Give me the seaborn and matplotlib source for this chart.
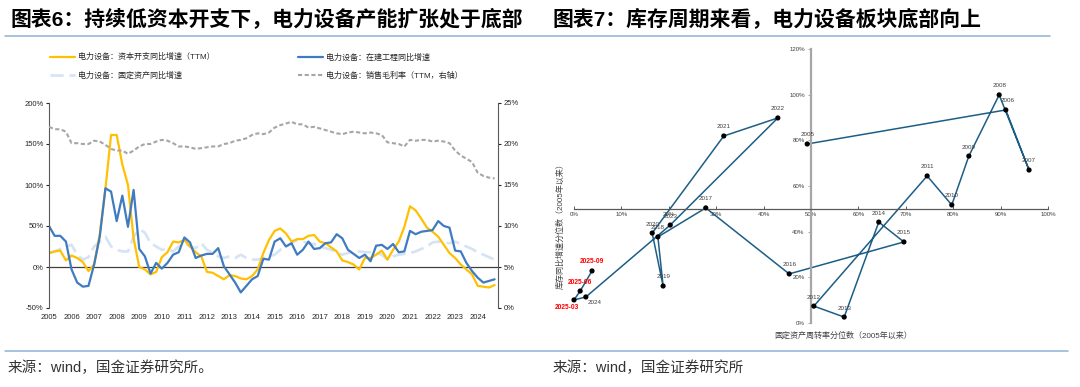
import numpy as np
import pandas as pd
import seaborn as sns
import matplotlib.pyplot as plt
from matplotlib.lines import Line2D

sns.set_theme(style='white')
plt.rcParams['font.family'] = ['Liberation Sans', 'Noto Sans CJK SC', 'DejaVu Sans']
plt.rcParams['axes.unicode_minus'] = False

# ---- chart 6 data (quarterly, 2005Q1 - 2024Q4) ----
years = list(range(2005, 2025))
capex = [17, 19, 20, 8, 14, 11, 6, -5, 3, 40, 95, 161, 161, 125, 100, 35,
         0, -3, -9, -6, 12, 18, 31, 30, 33, 25, 18, 13, -6, -7, -11, -15,
         -10, -11, -14, -15, -11, -3, 17, 33, 44, 47, 41, 31, 34, 34, 38, 39,
         31, 29, 24, 19, 8, 6, 3, -3, 11, 11, 15, 20, 9, 21, 31, 49,
         74, 69, 59, 48, 43, 37, 27, 17, 11, 3, -3, -9, -23, -24, -25, -22]
cip = [50, 38, 38, 31, -3, -19, -24, -23, 3, 37, 96, 92, 56, 87, 49, 94,
       22, 13, -8, 5, -2, 5, 15, 18, 36, 30, 11, 14, 16, 16, 23, 1,
       -9, -19, -31, -23, -15, -11, 10, 9, 31, 35, 25, 29, 15, 21, 31, 22,
       23, 29, 30, 40, 35, 21, 16, 11, 15, 7, 26, 27, 22, 28, 18, 19,
       44, 40, 43, 44, 45, 56, 50, 48, 20, 19, 5, -5, -13, -19, -17, -15]
fixed = [17, 19, 22, 25, 27, 15, 9, 12, 25, 31, 37, 25, 21, 19, 19, 37,
         46, 42, 29, 25, 21, 22, 19, 25, 29, 25, 23, 29, 21, 17, 13, 11,
         13, 11, 15, 11, 9, 9, 11, 13, 15, 21, 25, 29, 33, 31, 29, 28,
         25, 23, 21, 18, 15, 17, 19, 19, 18, 18, 17, 15, 9, 13, 15, 16,
         17, 19, 22, 25, 30, 31, 30, 29, 31, 28, 25, 22, 18, 15, 12, 9]
margin = [22.1, 21.8, 21.8, 21.5, 20.1, 20.1, 20.0, 20.0, 20.4, 20.3, 19.9, 19.4,
          19.2, 19.2, 18.8, 19.2, 19.7, 20.0, 20.0, 20.3, 20.5, 20.4, 20.1, 19.7,
          19.7, 19.6, 19.4, 19.5, 19.6, 19.7, 19.7, 20.0, 20.1, 20.4, 20.5, 20.7,
          21.1, 21.3, 21.2, 21.4, 22.0, 22.3, 22.5, 22.7, 22.4, 22.4, 22.0, 22.1,
          21.9, 21.7, 21.5, 21.3, 21.2, 21.4, 21.5, 21.4, 21.3, 21.4, 21.3, 21.1,
          20.2, 20.1, 20.0, 19.7, 20.5, 20.4, 20.5, 20.5, 20.3, 20.4, 20.3, 20.1,
          19.2, 18.6, 18.2, 17.8, 16.5, 16.1, 15.9, 15.8]

# ---- chart 7 data ----
labels7 = ['2005', '2006', '2007', '2008', '2009', '2010', '2011', '2012', '2013',
           '2014', '2015', '2016', '2017', '2018', '2019', '2020', '2021', '2022',
           '2023', '2024', '2025-03', '2025-06', '2025-09']
turnover = [49.2, 91.1, 96.0, 89.7, 83.3, 79.7, 74.5, 50.6, 57.0, 64.3, 69.6, 45.4,
            27.8, 17.7, 18.8, 16.5, 31.6, 43.0, 20.3, 2.5, 0.0, 1.3, 3.8]
inventory = [78.4, 93.3, 67.0, 99.9, 73.1, 51.7, 64.4, 7.4, 2.6, 44.2, 35.5, 21.5,
             50.4, 37.7, 16.2, 39.4, 81.9, 89.8, 42.9, 11.4, 10.1, 14.0, 22.8]

df = pd.DataFrame({'t': [2005 + i / 4 for i in range(len(capex))],
                   'capex': capex, 'cip': cip, 'fixed': fixed, 'margin': margin})
W, H = 1080, 387
fig = plt.figure(figsize=(W / 100, H / 100), dpi=100)

# ================= left chart =================
ax1 = fig.add_axes([49 / W, 1 - 308 / H, 449 / W, 205 / H])
ax1r = ax1.twinx()
sns.lineplot(data=df, x='t', y='fixed', ax=ax1, color='#D5E3F3', lw=1.9,
             linestyle=(0, (5, 2.2)), label='电力设备：固定资产同比增速')
sns.lineplot(data=df, x='t', y='capex', ax=ax1, color='#FFC000', lw=1.6,
             label='电力设备：资本开支同比增速（TTM）')
sns.lineplot(data=df, x='t', y='cip', ax=ax1, color='#3F7BC1', lw=1.6,
             label='电力设备：在建工程同比增速')
sns.lineplot(data=df, x='t', y='margin', ax=ax1r, color='#A6A6A6', lw=1.5,
             linestyle=(0, (2, 1.2)), label='电力设备：销售毛利率（TTM，右轴）')
ax1.axhline(0, color='#404040', lw=0.9, zorder=1)

ax1.set_xlim(2005, 2024.9)
ax1.set_ylim(-50, 200)
ax1r.set_ylim(0, 25)
ax1.set_xticks(years)
ax1.set_xticklabels([str(y) for y in years])
ax1.set_yticks(range(-50, 201, 50))
ax1.set_yticklabels([f'{v}%' for v in range(-50, 201, 50)])
ax1r.set_yticks(range(0, 26, 5))
ax1r.set_yticklabels([f'{v}%' for v in range(0, 26, 5)])
ax1.tick_params(axis='x', length=0, pad=4, labelsize=5.5, colors='#262626')
ax1.tick_params(axis='y', left=True, length=2, width=0.8, pad=2, labelsize=5.5,
                colors='#262626', direction='out')
ax1r.tick_params(axis='y', right=True, length=2, width=0.8, pad=2, labelsize=5.5,
                 colors='#262626', direction='out')
for a in (ax1, ax1r):
    a.set_xlabel('')
    a.set_ylabel('')
    for s in a.spines.values():
        s.set_visible(False)
ax1.spines['left'].set_visible(True)
ax1.spines['left'].set_color('#595959')
ax1.spines['left'].set_linewidth(0.8)
ax1r.spines['right'].set_visible(True)
ax1r.spines['right'].set_color('#595959')
ax1r.spines['right'].set_linewidth(0.8)

h1, l1 = ax1.get_legend_handles_labels()
h2, l2 = ax1r.get_legend_handles_labels()
ax1.get_legend().remove()
ax1r.get_legend().remove()
# column-wise fill: col1 = capex, fixed ; col2 = cip, margin
handles = [h1[1], h1[0], h1[2], h2[0]]
labs = [l1[1], l1[0], l1[2], l2[0]]
fig.legend(handles, labs, ncol=2, loc='upper left', bbox_to_anchor=(50 / W, 1 - 53 / H),
           frameon=False, fontsize=5.8, handlelength=3.1, handletextpad=0.35,
           columnspacing=10.4, labelspacing=1.25, borderpad=0, borderaxespad=0)

# ================= right chart =================
ax2 = fig.add_axes([574 / W, 1 - 323 / H, 474 / W, 274 / H])
sns.lineplot(x=turnover, y=inventory, sort=False, estimator=None, ax=ax2,
             color='#1D5E86', lw=1.1, zorder=2)
sns.scatterplot(x=turnover, y=inventory, ax=ax2, color='black', s=14,
                edgecolor='none', zorder=3, clip_on=False)
ax2.set_xlim(0, 100)
ax2.set_ylim(0, 120)
ax2.set_xticks(range(0, 101, 10))
ax2.set_xticklabels([f'{v}%' for v in range(0, 101, 10)])
ax2.set_yticks(range(0, 121, 20))
ax2.set_yticklabels([f'{v}%' for v in range(0, 121, 20)])
for s in ('top', 'right'):
    ax2.spines[s].set_visible(False)
ax2.spines['left'].set_position(('data', 50))
ax2.spines['bottom'].set_position(('data', 50))
ax2.spines['left'].set_color('#A6A6A6')
ax2.spines['left'].set_linewidth(1.6)
ax2.spines['bottom'].set_color('#595959')
ax2.spines['bottom'].set_linewidth(0.9)
ax2.tick_params(axis='x', bottom=True, direction='in', length=2.5, width=0.7,
                color='#595959', pad=2.5, labelsize=4.4, labelcolor='#404040')
ax2.tick_params(axis='y', left=True, direction='out', length=2.5, width=0.7,
                color='#A6A6A6', pad=2, labelsize=4.4, labelcolor='#404040')
ax2.set_xlabel('')
ax2.set_ylabel('')
ax2.patch.set_alpha(0)

offsets = {'2024': (6.5, -4.3), '2025-03': (-5, -5.8), '2006': (1.5, 6.5)}
for lab, x, y in zip(labels7, turnover, inventory):
    dx, dy = offsets.get(lab, (0, 6.5))
    red = lab.startswith('2025')
    ax2.annotate(lab, (x, y), xytext=(dx, dy), textcoords='offset points',
                 ha='center', va='center', fontsize=4.5 if not red else 4.8,
                 color='#FF0000' if red else '#404040',
                 fontweight='bold' if red else 'normal', annotation_clip=False)

fig.text(560 / W, 1 - 224 / H, '库存同比增速分位数（2005年以来）', rotation=90,
         ha='center', va='center', fontsize=5.8, color='#404040')
fig.text(843 / W, 1 - 336 / H, '固定资产周转率分位数（2005年以来）',
         ha='center', va='center', fontsize=5.8, color='#404040')

# ================= titles, rules, sources =================
fig.text(10 / W, 1 - 20 / H, '图表6：持续低资本开支下，电力设备产能扩张处于底部',
         ha='left', va='center', fontsize=15, fontweight='bold', color='black')
fig.text(553 / W, 1 - 20 / H, '图表7：库存周期来看，电力设备板块底部向上',
         ha='left', va='center', fontsize=15, fontweight='bold', color='black')
fig.add_artist(Line2D([5 / W, 1050 / W], [1 - 35.5 / H] * 2, color='#8DB3D6', lw=1.1))
fig.add_artist(Line2D([5 / W, 1068 / W], [1 - 351 / H] * 2, color='#8DB3D6', lw=1.1))
fig.text(8 / W, 1 - 368 / H, '来源：wind，国金证券研究所。', ha='left', va='center',
         fontsize=10.5, color='#333333')
fig.text(553 / W, 1 - 368 / H, '来源：wind，国金证券研究所', ha='left', va='center',
         fontsize=10.5, color='#333333')

fig.savefig('out.png', dpi=100)
